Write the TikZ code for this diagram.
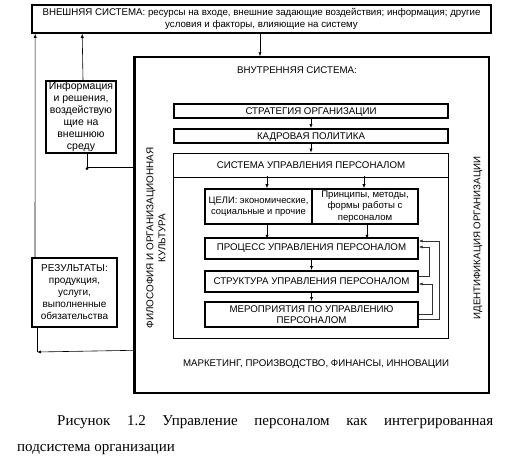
\documentclass[tikz,border=0pt]{standalone}
\usepackage{fontspec}
\setmainfont{Liberation Serif}
\setsansfont{Liberation Sans}
\usetikzlibrary{arrows.meta,calc}
\begin{document}
\begin{tikzpicture}[x=1pt,y=-1pt,
  font=\sffamily\fontsize{9.7}{11.5}\selectfont,
  box/.style={draw, line width=1.6pt, inner sep=0pt, align=center},
  thinbox/.style={draw, line width=0.8pt, inner sep=0pt, align=center},
  lbl/.style={inner sep=0pt, align=center},
  small/.style={font=\sffamily\fontsize{10}{12}\selectfont},
  arr/.style={-{Latex[length=4pt,width=3.2pt]}, line width=0.6pt},
  fb/.style={-{Latex[length=3.5pt,width=3pt]}, line width=0.5pt, black!80}]
\useasboundingbox (0,0) rectangle (511,460);
% external system
\node[box, minimum width=459pt, minimum height=28pt, font=\sffamily\fontsize{9.7}{12}\selectfont] (ext) at (261.5,19)
  {ВНЕШНЯЯ СИСТЕМА: ресурсы на входе, внешние задающие воздействия; информация; другие\\условия и факторы, влияющие на систему};
% internal system
\node[draw, line width=1.4pt, minimum width=354pt, minimum height=336pt, inner sep=0pt] (int) at (312,225) {};
\draw[line width=2.6pt] (int.north west) -- (int.south west);
\node[lbl] (intT) at (297,70) {ВНУТРЕННЯЯ СИСТЕМА:};
% info and results boxes
\node[box, line width=1.4pt, font=\sffamily\fontsize{10.5}{12}\selectfont, minimum width=70pt, minimum height=72pt] (info) at (81,117)
  {Информация\\и решения,\\воздействую\\щие на\\внешнюю\\среду};
\node[box, line width=2pt, small, minimum width=85pt, minimum height=69pt] (res) at (74.5,292.5)
  {РЕЗУЛЬТАТЫ:\\продукция,\\услуги,\\выполненные\\обязательства};
% strategy etc
\node[box, line width=2pt, minimum width=274pt, minimum height=14pt, text height=7pt, text depth=0pt] (strat) at (311,111) {СТРАТЕГИЯ ОРГАНИЗАЦИИ};
\node[box, line width=2pt, minimum width=274pt, minimum height=14pt, text height=7pt, text depth=0pt] (kadr) at (311,136) {КАДРОВАЯ ПОЛИТИКА};
\node[thinbox, minimum width=275pt, minimum height=185pt] (sup) at (311,245.5) {};
\coordinate (hl) at (311,177);
\draw[line width=0.8pt] (sup.west |- hl) -- (sup.east |- hl);
\node[lbl] (supT) at (311,165) {СИСТЕМА УПРАВЛЕНИЯ ПЕРСОНАЛОМ};
\node[box, line width=1.6pt, font=\sffamily\fontsize{9.4}{11.5}\selectfont, minimum width=107pt, minimum height=35pt] (goals) at (258.5,206.5)
  {ЦЕЛИ: экономические,\\социальные и прочие};
\node[box, line width=1.6pt, font=\sffamily\fontsize{9.6}{11.3}\selectfont, minimum width=106pt, minimum height=35pt] (princ) at (365,206.5)
  {Принципы, методы,\\формы работы с\\персоналом};
\node[box, line width=2pt, minimum width=213pt, minimum height=21pt] (proc) at (311.5,248.5) {ПРОЦЕСС УПРАВЛЕНИЯ ПЕРСОНАЛОМ};
\node[box, line width=2pt, minimum width=213pt, minimum height=21pt] (struct) at (311.5,281.5) {СТРУКТУРА УПРАВЛЕНИЯ ПЕРСОНАЛОМ};
\node[box, line width=2pt, minimum width=213pt, minimum height=25pt, font=\sffamily\fontsize{9.7}{10.8}\selectfont] (mer) at (311.5,314.5) {МЕРОПРИЯТИЯ ПО УПРАВЛЕНИЮ\\ПЕРСОНАЛОМ};
% side labels
\node[lbl, rotate=90, font=\sffamily\fontsize{9.9}{12}\selectfont] (phil) at (156,238) {ФИЛОСОФИЯ И ОРГАНИЗАЦИОННАЯ\\КУЛЬТУРА};
\node[lbl, rotate=90] (ident) at (478,238) {ИДЕНТИФИКАЦИЯ ОРГАНИЗАЦИИ};
\node[lbl] (mark) at (316,364) {МАРКЕТИНГ, ПРОИЗВОДСТВО, ФИНАНСЫ, ИННОВАЦИИ};
% vertical arrows
\draw[arr] ([xshift=-1.5pt]ext.south) -- ([xshift=-52pt]int.north);
\draw[arr] (strat.south) -- (kadr.north);
\draw[arr] (kadr.south) -- (sup.north);
\draw[arr] ($(goals.north)+(8.5,-12)$) -- ($(goals.north)+(8.5,0)$);
\draw[arr] ($(princ.north)+(-1,-12)$) -- ($(princ.north)+(-1,0)$);
\draw[arr] ($(goals.south)+(8.5,0)$) -- ($(goals.south)+(8.5,14)$);
\draw[arr] ($(princ.south)+(2,0)$) -- ($(princ.south)+(2,14)$);
\draw[arr] (proc.south) -- (struct.north);
\draw[arr] (struct.south) -- (mer.north);
% feedback loops
\draw[fb] ($(struct.north east)+(0,6)$) -| ($(proc.east)+(10,-1.5)$) -- ($(proc.east)+(0,-1.5)$);
\draw[fb] ($(mer.east)+(0,-0.5)$) -| ($(struct.east)+(13,2.5)$) -- ($(struct.east)+(0,2.5)$);
\draw[fb] ($(mer.east)+(0,4.5)$) -| ($(proc.east)+(20,-7.5)$) -- ($(proc.east)+(0,-7.5)$);
% left connectors
\draw[arr] ($(res.north west)+(4,0)$) -- ($(ext.south west)+(4,0)$);
\draw[arr] ($(info.north)+(2,0)$) -- ($(ext.south west)+(51,0)$);
\draw[line width=0.6pt] ($(info.south)+(6,0)$) |- ($(int.north west)+(0,111)$);
\fill ($(info.south)+(6,15)$) circle (1.5pt);
\draw[arr] ($(int.north west)+(0,294)$) -- ($(res.south west)+(6,24)$);
\draw[line width=0.6pt] ($(res.south west)+(6,24)$) -- ($(res.south west)+(6,0)$);
% caption
\node[anchor=base west, inner sep=0pt, font=\rmfamily\fontsize{15}{18}\selectfont] (cap1) at (57,425)
  {\makebox[436pt][s]{Рисунок 1.2 Управление персоналом как интегрированная}};
\node[anchor=base west, inner sep=0pt, font=\rmfamily\fontsize{15}{18}\selectfont] (cap2) at (17,451)
  {подсистема организации};
\end{tikzpicture}
\end{document}
